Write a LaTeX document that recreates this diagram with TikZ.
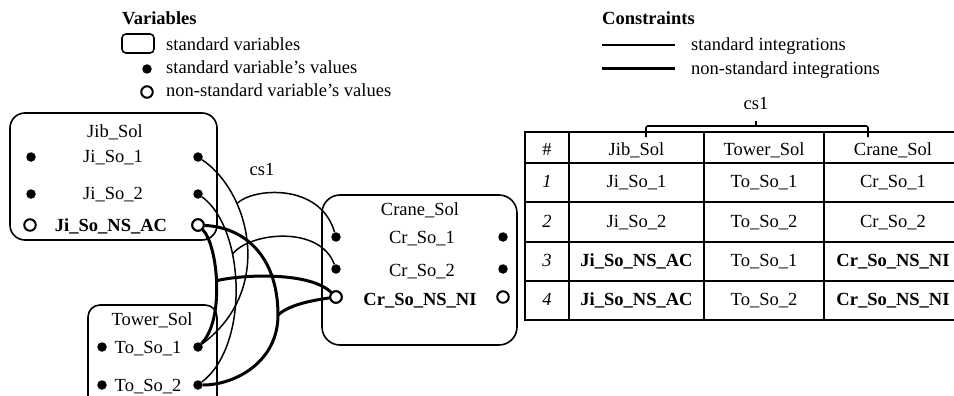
\documentclass[tikz,border=0pt]{standalone}
\usepackage{fontspec}
\setmainfont{Liberation Serif}
\newcommand\myfs{\fontsize{18.5}{22}\selectfont}
\begin{document}
\begin{tikzpicture}[x=1pt,y=-1pt,
  txt/.style={font=\myfs, inner sep=0pt, anchor=base},
  btxt/.style={font=\myfs\bfseries, inner sep=0pt, anchor=base},
  fdot/.style={circle, fill=black, inner sep=0pt, minimum size=9.5pt},
  odot/.style={circle, draw=black, line width=2pt, fill=white, inner sep=0pt, minimum size=11.5pt},
  box/.style={draw, line width=1.6pt, inner sep=0pt},
  stdline/.style={line width=1.5pt},
  nsline/.style={line width=3pt},
  gridline/.style={line width=1.6pt}]
\useasboundingbox (0,0) rectangle (954,396);
\clip (0,0) rectangle (954,396);

% ---------- legend: variables ----------
\node[btxt, anchor=base west] (varh) at (122,25) {Variables};
\node[box, rounded corners=4pt, minimum width=32pt, minimum height=19pt] (legbox) at (138,43.5) {};
\node[txt, anchor=base west] (legsv) at (166,51) {standard variables};
\node[fdot] (legfd) at (147,69) {};
\node[txt, anchor=base west] (legsvv) at (166,74) {standard variable's values};
\node[odot] (legod) at (147,92) {};
\node[txt, anchor=base west] (legnsv) at (166,97) {non-standard variable's values};

% ---------- legend: constraints ----------
\node[btxt, anchor=base west] (conh) at (602,25) {Constraints};
\coordinate (ls1) at (602,45); \coordinate (ls2) at (675,45);
\coordinate (lt1) at (602,69); \coordinate (lt2) at (675,69);
\draw[stdline] (ls1) -- (ls2);
\draw[nsline] (lt1) -- (lt2);
\node[txt, anchor=base west] (legsi) at (691,51) {standard integrations};
\node[txt, anchor=base west] (legnsi) at (691,75) {non-standard integrations};

% ---------- variable boxes ----------
\node[box, rounded corners=15pt, minimum width=207pt, minimum height=127pt] (jib) at (113.5,176.5) {};
\node[box, rounded corners=12pt, minimum width=129pt, minimum height=105pt] (tower) at (152.5,357.5) {};
\node[box, rounded corners=18pt, minimum width=195pt, minimum height=150pt] (crane) at (419.5,270) {};

% Jib_Sol
\node[txt] (jibt) at (115,137) {Jib\_Sol};
\node[txt] (j1t) at (113,162) {Ji\_So\_1};
\node[txt] (j2t) at (113,199) {Ji\_So\_2};
\node[btxt] (j3t) at (111,231) {Ji\_So\_NS\_AC};
\node[fdot] (j1l) at (31,157) {};
\node[fdot] (j1r) at (198,157) {};
\node[fdot] (j2l) at (31,194) {};
\node[fdot] (j2r) at (198,194) {};
\node[odot] (j3l) at (30,225) {};
\node[odot] (j3r) at (198,225) {};

% Tower_Sol
\node[txt] (towt) at (152,325) {Tower\_Sol};
\node[txt] (t1t) at (148,353) {To\_So\_1};
\node[txt] (t2t) at (148,391) {To\_So\_2};
\node[fdot] (t1l) at (102,347) {};
\node[fdot] (t1r) at (198,347) {};
\node[fdot] (t2l) at (102,385) {};
\node[fdot] (t2r) at (198,385) {};

% Crane_Sol
\node[txt] (cret) at (420,215) {Crane\_Sol};
\node[txt] (c1t) at (422,243) {Cr\_So\_1};
\node[txt] (c2t) at (422,276) {Cr\_So\_2};
\node[btxt] (c3t) at (420,305) {Cr\_So\_NS\_NI};
\node[fdot] (c1l) at (336,237) {};
\node[fdot] (c1r) at (503,237) {};
\node[fdot] (c2l) at (336,269) {};
\node[fdot] (c2r) at (503,269) {};
\node[odot] (c3l) at (336,297) {};
\node[odot] (c3r) at (503,297) {};

\node[txt] (cs1a) at (262,175) {cs1};

% ---------- standard integrations ----------
\draw[stdline] (j1r) .. controls (250,192) and (275,290) .. (t1r) coordinate[pos=0.3] (b1);
\draw[stdline] (b1) .. controls (252,188) and (320,182) .. (c1l);
\draw[stdline] (j2r) .. controls (245,228) and (250,345) .. (t2r) coordinate[pos=0.35] (b2);
\draw[stdline] (b2) .. controls (250,232) and (320,225) .. (c2l);

% ---------- non-standard integrations ----------
\coordinate (k2m) at (278,315);
\draw[nsline] (j3r) .. controls (218,245) and (225,320) .. (t1r) coordinate[pos=0.48] (kb1);
\draw[nsline] (kb1) .. controls (245,274) and (310,272) .. (c3l);
\draw[nsline] (j3r) .. controls (250,228) and (278,262) .. (k2m)
              .. controls (278,362) and (235,385) .. (t2r);
\draw[nsline] (k2m) .. controls (290,304) and (315,300) .. (c3l);
% redraw open circles on top
\node[odot] at (j3r) {};
\node[odot] at (c3l) {};

% ---------- table ----------
\draw[gridline] (525,132) rectangle (962,320);
\foreach \xx in {569,704,824} \draw[gridline] (\xx,132) -- (\xx,320);
\foreach \yy in {163,202,242,281} \draw[gridline] (525,\yy) -- (962,\yy);
\draw[gridline, rounded corners=2pt] (646,137) -- (646,126) -- (868,126) -- (868,137);
\draw[gridline] (756,126) -- (756,121);
\node[txt] (tcs1) at (756,110) {cs1};

\node[txt] (h0) at (547,155) {\#};
\node[txt] (h1) at (636.5,155) {Jib\_Sol};
\node[txt] (h2) at (764,155) {Tower\_Sol};
\node[txt] (h3) at (893,155) {Crane\_Sol};

\node[txt] (r10) at (547,187) {\itshape 1};
\node[txt] (r11) at (636.5,187) {Ji\_So\_1};
\node[txt] (r12) at (764,187) {To\_So\_1};
\node[txt] (r13) at (893,187) {Cr\_So\_1};

\node[txt] (r20) at (547,227) {\itshape 2};
\node[txt] (r21) at (636.5,227) {Ji\_So\_2};
\node[txt] (r22) at (764,227) {To\_So\_2};
\node[txt] (r23) at (893,227) {Cr\_So\_2};

\node[txt] (r30) at (547,266) {\itshape 3};
\node[btxt] (r31) at (636.5,266) {Ji\_So\_NS\_AC};
\node[txt] (r32) at (764,266) {To\_So\_1};
\node[btxt] (r33) at (893,266) {Cr\_So\_NS\_NI};

\node[txt] (r40) at (547,305) {\itshape 4};
\node[btxt] (r41) at (636.5,305) {Ji\_So\_NS\_AC};
\node[txt] (r42) at (764,305) {To\_So\_2};
\node[btxt] (r43) at (893,305) {Cr\_So\_NS\_NI};
\end{tikzpicture}
\end{document}
